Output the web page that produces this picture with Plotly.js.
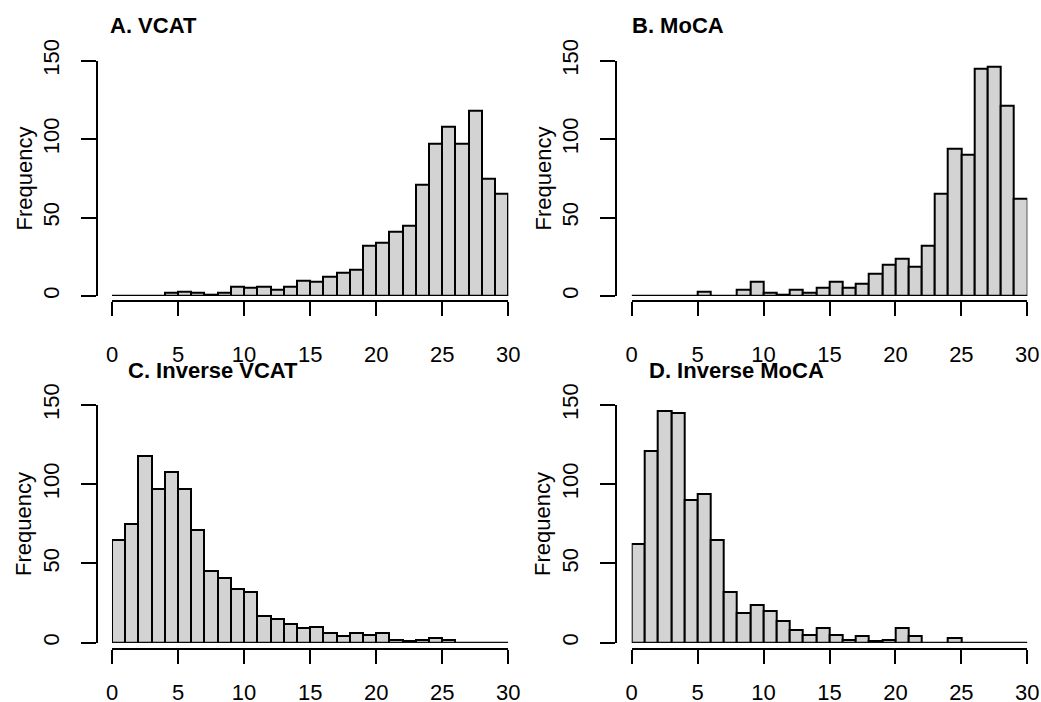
<!DOCTYPE html>
<html>
<head>
<meta charset="utf-8">
<script src="https://cdn.plot.ly/plotly-3.0.1.min.js"></script>
<style>html,body{margin:0;padding:0;background:#fff;}#chart{width:1041px;height:702px;}</style>
</head>
<body>
<div id="chart"></div>
<script>
// Bin left edges (width 1)
const binStart = [0,1,2,3,4,5,6,7,8,9,10,11,12,13,14,15,16,17,18,19,20,21,22,23,24,25,26,27,28,29];
// Frequencies per bin
const vcat     = [0,0,0,0,2,3,2,1,2,6,5,6,4,6,10,9,12,15,17,32,34,41,45,71,97,108,97,118,75,65];
const moca     = [0,0,0,0,0,3,0,0,4,9,2,1,4,2,5,9,5,8,14,20,24,19,32,65,94,90,145,146,121,62];
const invVcat  = [65,75,118,97,108,97,71,45,41,34,32,17,15,12,9,10,6,4,6,5,6,2,1,2,3,2,0,0,0,0];
const invMoca  = [62,121,146,145,90,94,65,32,19,24,20,14,8,5,9,5,2,4,1,2,9,4,0,0,3,0,0,0,0,0];
const panelTitles = ["A. VCAT", "B. MoCA", "C. Inverse VCAT", "D. Inverse MoCA"];
const xTicks = [0,5,10,15,20,25,30];
const yTicks = [0,50,100,150];
const yLabel = "Frequency";

const W = 1041, H = 702;
const FONT = "Liberation Sans, Arial, sans-serif";
const px = v => v / W;
const py = v => 1 - v / H;

// panel geometry (pixels)
const panels = [
  {data: vcat,    x0: 112,   x1: 508.3,  yb: 296,   yt: 60.7, yLine: 96.7,  xLine: 301,   std: 20, tx: 108,   ty: 25},
  {data: moca,    x0: 631.7, x1: 1027.3, yb: 296,   yt: 60.7, yLine: 615.7, xLine: 301,   std: 20, tx: 630,   ty: 25},
  {data: invVcat, x0: 112,   x1: 508.3,  yb: 642.7, yt: 405,  yLine: 96.7,  xLine: 648.7, std: 10, tx: 126,   ty: 370},
  {data: invMoca, x0: 631.7, x1: 1027.3, yb: 642.7, yt: 405,  yLine: 615.7, xLine: 648.7, std: 10, tx: 646.7, ty: 370}
];

const traces = [];
const layout = {
  width: W, height: H,
  margin: {l: 0, r: 0, t: 0, b: 0},
  paper_bgcolor: "#fff", plot_bgcolor: "rgba(0,0,0,0)",
  showlegend: false,
  bargap: 0,
  font: {family: FONT, size: 22, color: "#000"},
  annotations: [],
  shapes: []
};

panels.forEach((p, i) => {
  const n = i === 0 ? "" : String(i + 1);
  const xa = "x" + n, ya = "y" + n;
  traces.push({
    type: "bar",
    x: binStart,
    y: p.data,
    width: 1,
    offset: 0,
    xaxis: xa, yaxis: ya,
    cliponaxis: false,
    marker: {color: "#D3D3D3", line: {color: "#000", width: 2}},
    hoverinfo: "x+y"
  });
  layout["xaxis" + n] = {
    domain: [px(p.x0), px(p.x1)],
    range: [binStart[0], binStart[binStart.length - 1] + 1],
    anchor: "free",
    position: py(p.xLine),
    showgrid: false, zeroline: false,
    showline: true, linecolor: "#000", linewidth: 2,
    ticks: "outside", ticklen: 14, tickwidth: 2, tickcolor: "#000",
    tickmode: "array", tickvals: xTicks, ticktext: xTicks.map(String),
    ticklabelstandoff: p.std,
    tickfont: {family: FONT, size: 22, color: "#000"},
    fixedrange: true
  };
  layout["yaxis" + n] = {
    domain: [py(p.yb), py(p.yt)],
    range: [0, 150],
    anchor: "free",
    position: px(p.yLine),
    showgrid: false, zeroline: false,
    showline: true, linecolor: "#000", linewidth: 2,
    ticks: "outside", ticklen: 15, tickwidth: 2, tickcolor: "#000",
    tickmode: "array", tickvals: yTicks, ticktext: yTicks.map(String),
    tickangle: -90,
    ticklabelstandoff: 13,
    tickfont: {family: FONT, size: 22, color: "#000"},
    fixedrange: true
  };
  // baseline of zero-height bins
  layout.shapes.push({
    type: "line", xref: xa, yref: ya,
    x0: binStart[0], x1: binStart[binStart.length - 1] + 1, y0: 0, y1: 0,
    line: {color: "#000", width: 2}
  });
  layout.annotations.push({
    text: panelTitles[i], xref: "paper", yref: "paper",
    x: px(p.tx), y: py(p.ty), xanchor: "left", yanchor: "middle",
    showarrow: false, font: {family: FONT, size: 22, weight: "bold", color: "#000"}
  });
  layout.annotations.push({
    text: yLabel, xref: "paper", yref: "paper",
    x: px(p.yLine - 72.5), y: py((p.yb + p.yt) / 2), xanchor: "center", yanchor: "middle",
    textangle: -90,
    showarrow: false, font: {family: FONT, size: 22, color: "#000"}
  });
});

Plotly.newPlot("chart", traces, layout, {displayModeBar: false, staticPlot: false});
</script>
</body>
</html>
